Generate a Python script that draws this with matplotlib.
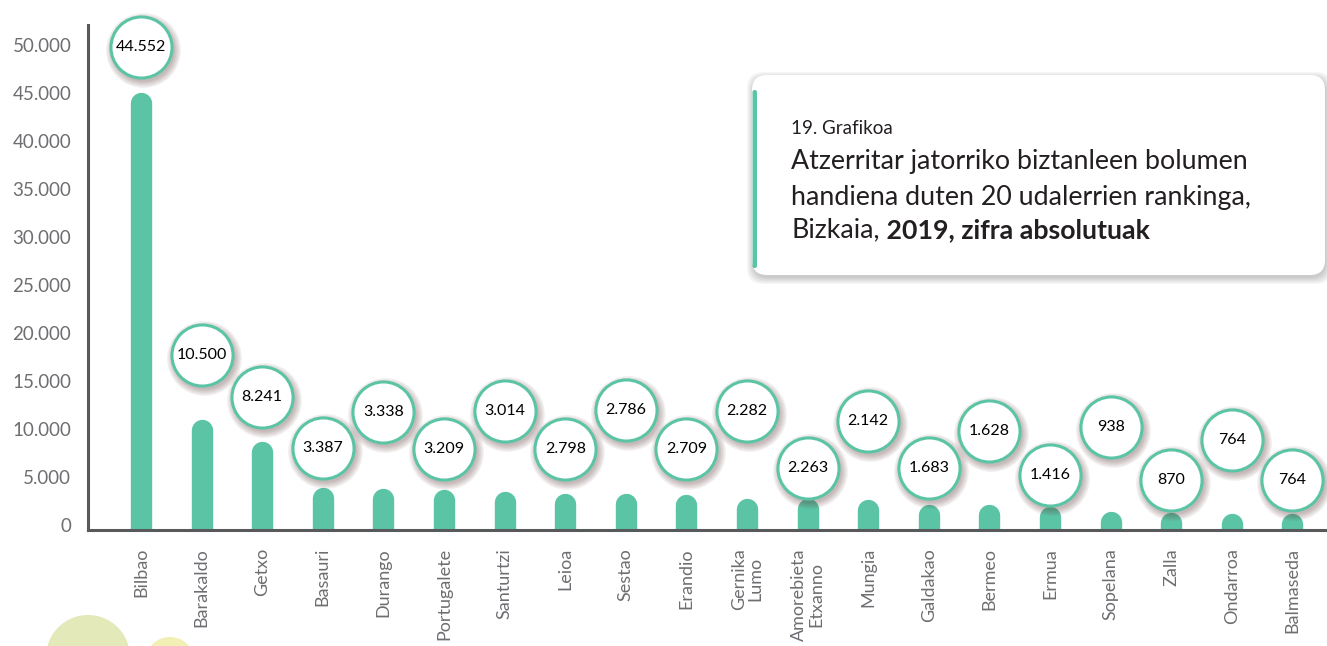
import matplotlib
matplotlib.use("Agg")
import matplotlib.pyplot as plt
from matplotlib.patches import FancyBboxPatch, Circle
from matplotlib.text import Annotation
from matplotlib.transforms import offset_copy, IdentityTransform

# --- datuak ---
udalerriak = ["Bilbao", "Barakaldo", "Getxo", "Basauri", "Durango", "Portugalete",
              "Santurtzi", "Leioa", "Sestao", "Erandio", "Gernika\nLumo",
              "Amorebieta\nEtxanno", "Mungia", "Galdakao", "Bermeo", "Ermua",
              "Sopelana", "Zalla", "Ondarroa", "Balmaseda"]
biztanleak = [44552, 10500, 8241, 3387, 3338, 3209, 3014, 2798, 2786, 2709,
              2282, 2263, 2142, 1683, 1628, 1416, 938, 870, 764, 764]
y_ticks = [0, 5000, 10000, 15000, 20000, 25000, 30000, 35000, 40000, 45000, 50000]

# etiketa-zirkuluen goranzko desplazamendua (pixeletan)
label_offsets = [50, 69, 49, 44, 81, 45, 85, 49, 88, 50,
                 92, 35, 83, 41, 78, 36, 89, 37, 78, 38]

GREEN = "#5bc4a5"
GRAY = "#6d6e71"
DARK = "#231f20"

plt.rcParams['font.family'] = ['Lato', 'DejaVu Sans']

W, H = 1327, 646
fig = plt.figure(figsize=(W / 100, H / 100), dpi=100)
ax = fig.add_axes([88 / W, 1 - 530 / H, 1 - 88 / W, (530 - 25) / H])

ax.set_xlim(-0.875, 19.57)
ax.set_ylim(-520, 52080)

# barrak (goiko muturra biribildua, kapela ez dadin gehiegi igo)
x = list(range(len(udalerriak)))
bar_tr = offset_copy(ax.transData, fig=fig, x=0, y=-6, units='dots')
ax.vlines(x, ax.get_ylim()[0], biztanleak, colors=GREEN, linewidth=15.4,
          capstyle='round', zorder=2, transform=bar_tr)

# ardatzak
for s in ['top', 'right']:
    ax.spines[s].set_visible(False)
for s in ['left', 'bottom']:
    ax.spines[s].set_color('#58595b')
    ax.spines[s].set_linewidth(2.2)
    ax.spines[s].set_zorder(3)

ax.set_yticks(y_ticks)
ax.set_yticklabels([f"{t:,}".replace(",", ".") for t in y_ticks])
ax.tick_params(axis='y', length=0, pad=12, labelsize=13.5, labelcolor=GRAY)
ax.set_xticks(x)
ax.set_xticklabels(udalerriak, rotation=90, linespacing=1.05)
ax.tick_params(axis='x', length=0, pad=13, labelsize=13, labelcolor=GRAY)

# balio-zirkuluak itzalarekin
for i, (v, off) in enumerate(zip(biztanleak, label_offsets)):
    tr = offset_copy(ax.transData, fig=fig, x=0, y=off, units='dots')
    tr_sh = offset_copy(ax.transData, fig=fig, x=2, y=off - 3, units='dots')
    for k in range(5):
        ax.plot([i], [v], marker='o', ms=45 + 2.2 * k, mfc='#5a3535', mew=0,
                alpha=0.08, transform=tr_sh, clip_on=False, zorder=4)
    ax.plot([i], [v], marker='o', ms=44, mfc='white', mec=GREEN, mew=2.2,
            transform=tr, clip_on=False, zorder=5)
    ax.text(i, v, f"{v:,}".replace(",", "."), transform=tr, ha='center',
            va='center', fontsize=11.5, color='black', zorder=6)

# izenburu-kutxa
px = fig.dpi_scale_trans
for k in range(6):
    sh = FancyBboxPatch((7.53 - k * 0.012, 6.46 - 2.78 - k * 0.012),
                        5.73 + k * 0.024, 2.0 + k * 0.024,
                        boxstyle="round,pad=0,rounding_size=0.16",
                        transform=px, facecolor='#000000', edgecolor='none',
                        alpha=0.035, zorder=0)
    fig.patches.append(sh)
box = FancyBboxPatch((7.52, 6.46 - 2.75), 5.73, 2.0,
                     boxstyle="round,pad=0,rounding_size=0.15",
                     transform=px, facecolor='white', edgecolor='none', zorder=1)
fig.patches.append(box)
accent = FancyBboxPatch((7.525, 6.46 - 2.68), 0.045, 1.78,
                        boxstyle="round,pad=0,rounding_size=0.02",
                        transform=px, facecolor=GREEN, edgecolor='none', zorder=2)
fig.patches.append(accent)

fig.text(7.91, 6.46 - 1.28, "19. Grafikoa", transform=px, fontsize=13.5,
         color=DARK, va='center', ha='left', zorder=3)
fig.text(7.91, 6.46 - 1.62, "Atzerritar jatorriko biztanleen bolumen",
         transform=px, fontsize=19.3, color=DARK, va='center', ha='left',
         zorder=3)
fig.text(7.91, 6.46 - 1.97, "handiena duten 20 udalerrien rankinga,",
         transform=px, fontsize=19.3, color=DARK, va='center', ha='left',
         zorder=3)
t3 = fig.text(7.91, 6.46 - 2.30, "Bizkaia,", transform=px, fontsize=19.3,
              color=DARK, va='center', ha='left', zorder=3)
bold = Annotation(" 2019, zifra absolutuak", xy=(1, 0), xycoords=t3,
                  va='bottom', ha='left', fontsize=19.3, color=DARK,
                  fontweight='bold', zorder=3)
fig.add_artist(bold)

# apaingarri-zirkuluak behean ezkerrean
fig.patches.append(Circle((88, H - 657), 42, transform=IdentityTransform(),
                          facecolor='#e3e9b9', edgecolor='none', zorder=0))
fig.patches.append(Circle((170, H - 662), 25, transform=IdentityTransform(),
                          facecolor='#f1efb3', edgecolor='none', zorder=0))

fig.savefig("out.png", dpi=100, facecolor='white')
